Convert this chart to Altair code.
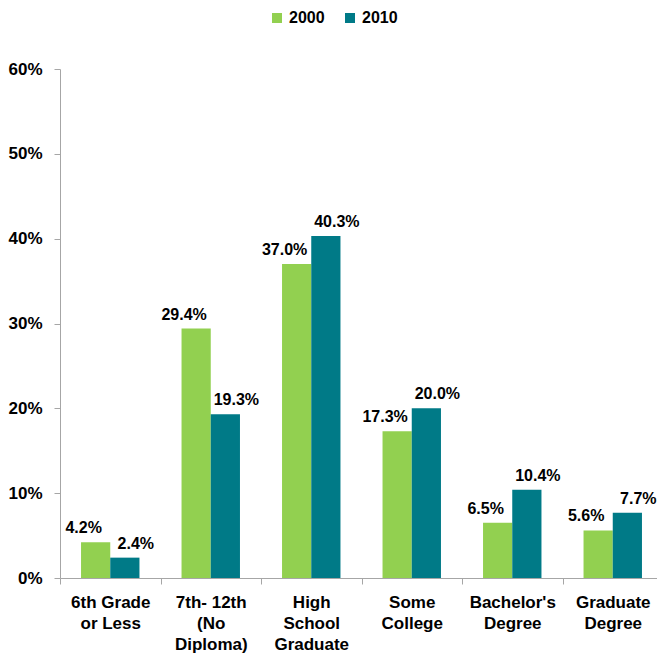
import altair as alt
import pandas as pd

categories = ["6th Grade|or Less", "7th- 12th|(No|Diploma)", "High|School|Graduate",
              "Some|College", "Bachelor's|Degree", "Graduate|Degree"]
years = ["2000", "2010"]
values_2000 = [4.2, 29.4, 37.0, 17.3, 6.5, 5.6]
values_2010 = [2.4, 19.3, 40.3, 20.0, 10.4, 7.7]
y_ticks = [0, 10, 20, 30, 40, 50, 60]

rows = []
for c, v in zip(categories, values_2000):
    rows.append({"cat": c, "year": "2000", "value": v})
for c, v in zip(categories, values_2010):
    rows.append({"cat": c, "year": "2010", "value": v})
df = pd.DataFrame(rows)

FONT = "Liberation Sans Narrow, Arial Narrow, Liberation Sans, Arial, sans-serif"
GRAY = "#A6A6A6"
colors = ["#92D050", "#007A87"]

x_enc = alt.X("cat:N", sort=categories, title=None,
              scale=alt.Scale(paddingInner=0, paddingOuter=0, range=[0, 603]),
              axis=alt.Axis(labelExpr="datum.value ? split(datum.value, '|') : ''",
                            labelAngle=0, tickBand="extent", tickSize=6, labelPadding=10,
                            labelLineHeight=21, labelFontSize=17, labelFontWeight="bold",
                            labelFont=FONT, labelColor="#000000", domainColor=GRAY,
                            tickColor=GRAY, grid=False, labelBaseline="top"))
y_enc = alt.Y("value:Q", title=None,
              scale=alt.Scale(domain=[0, 60], nice=False),
              axis=alt.Axis(values=y_ticks, labelExpr="datum.value + '%'", tickSize=6,
                            labelPadding=12, labelFontSize=17, labelFontWeight="bold",
                            labelFont=FONT, labelColor="#000000", domainColor=GRAY,
                            tickColor=GRAY, grid=False))
xo = alt.XOffset("year:N", sort=years, scale=alt.Scale(paddingInner=0, paddingOuter=0.72))

bars = alt.Chart(df).mark_bar().encode(
    x=x_enc, y=y_enc, xOffset=xo,
    color=alt.Color("year:N", sort=years, scale=alt.Scale(domain=years, range=colors),
                    legend=alt.Legend(title=None, orient="none", direction="horizontal",
                                      legendX=209, legendY=-59, symbolType="square",
                                      symbolSize=100, symbolStrokeWidth=0,
                                      labelFontSize=16, labelFontWeight="bold",
                                      labelFont=FONT, labelColor="#000000",
                                      labelOffset=4, columnPadding=17, padding=0)),
)

def labels(year, dx):
    return alt.Chart(df).transform_filter(alt.datum.year == year).transform_calculate(
        lbl="format(datum.value, '.1f') + '%'"
    ).mark_text(
        dx=dx, dy=-9, baseline="alphabetic", align="center", fontSize=16,
        fontWeight="bold", font=FONT, color="#000000"
    ).encode(
        x=alt.X("cat:N", sort=categories), y="value:Q",
        xOffset=alt.XOffset("year:N", sort=years),
        text="lbl:N",
    )

chart = alt.layer(bars, labels("2000", -12), labels("2010", 11)).properties(
    width=597, height=509,
    autosize=alt.AutoSizeParams(type="none"),
    padding={"left": 52, "top": 61, "right": 0, "bottom": 88},
).configure_view(stroke=None)

chart.save("out.html", embed_options={"renderer": "svg", "actions": False})
